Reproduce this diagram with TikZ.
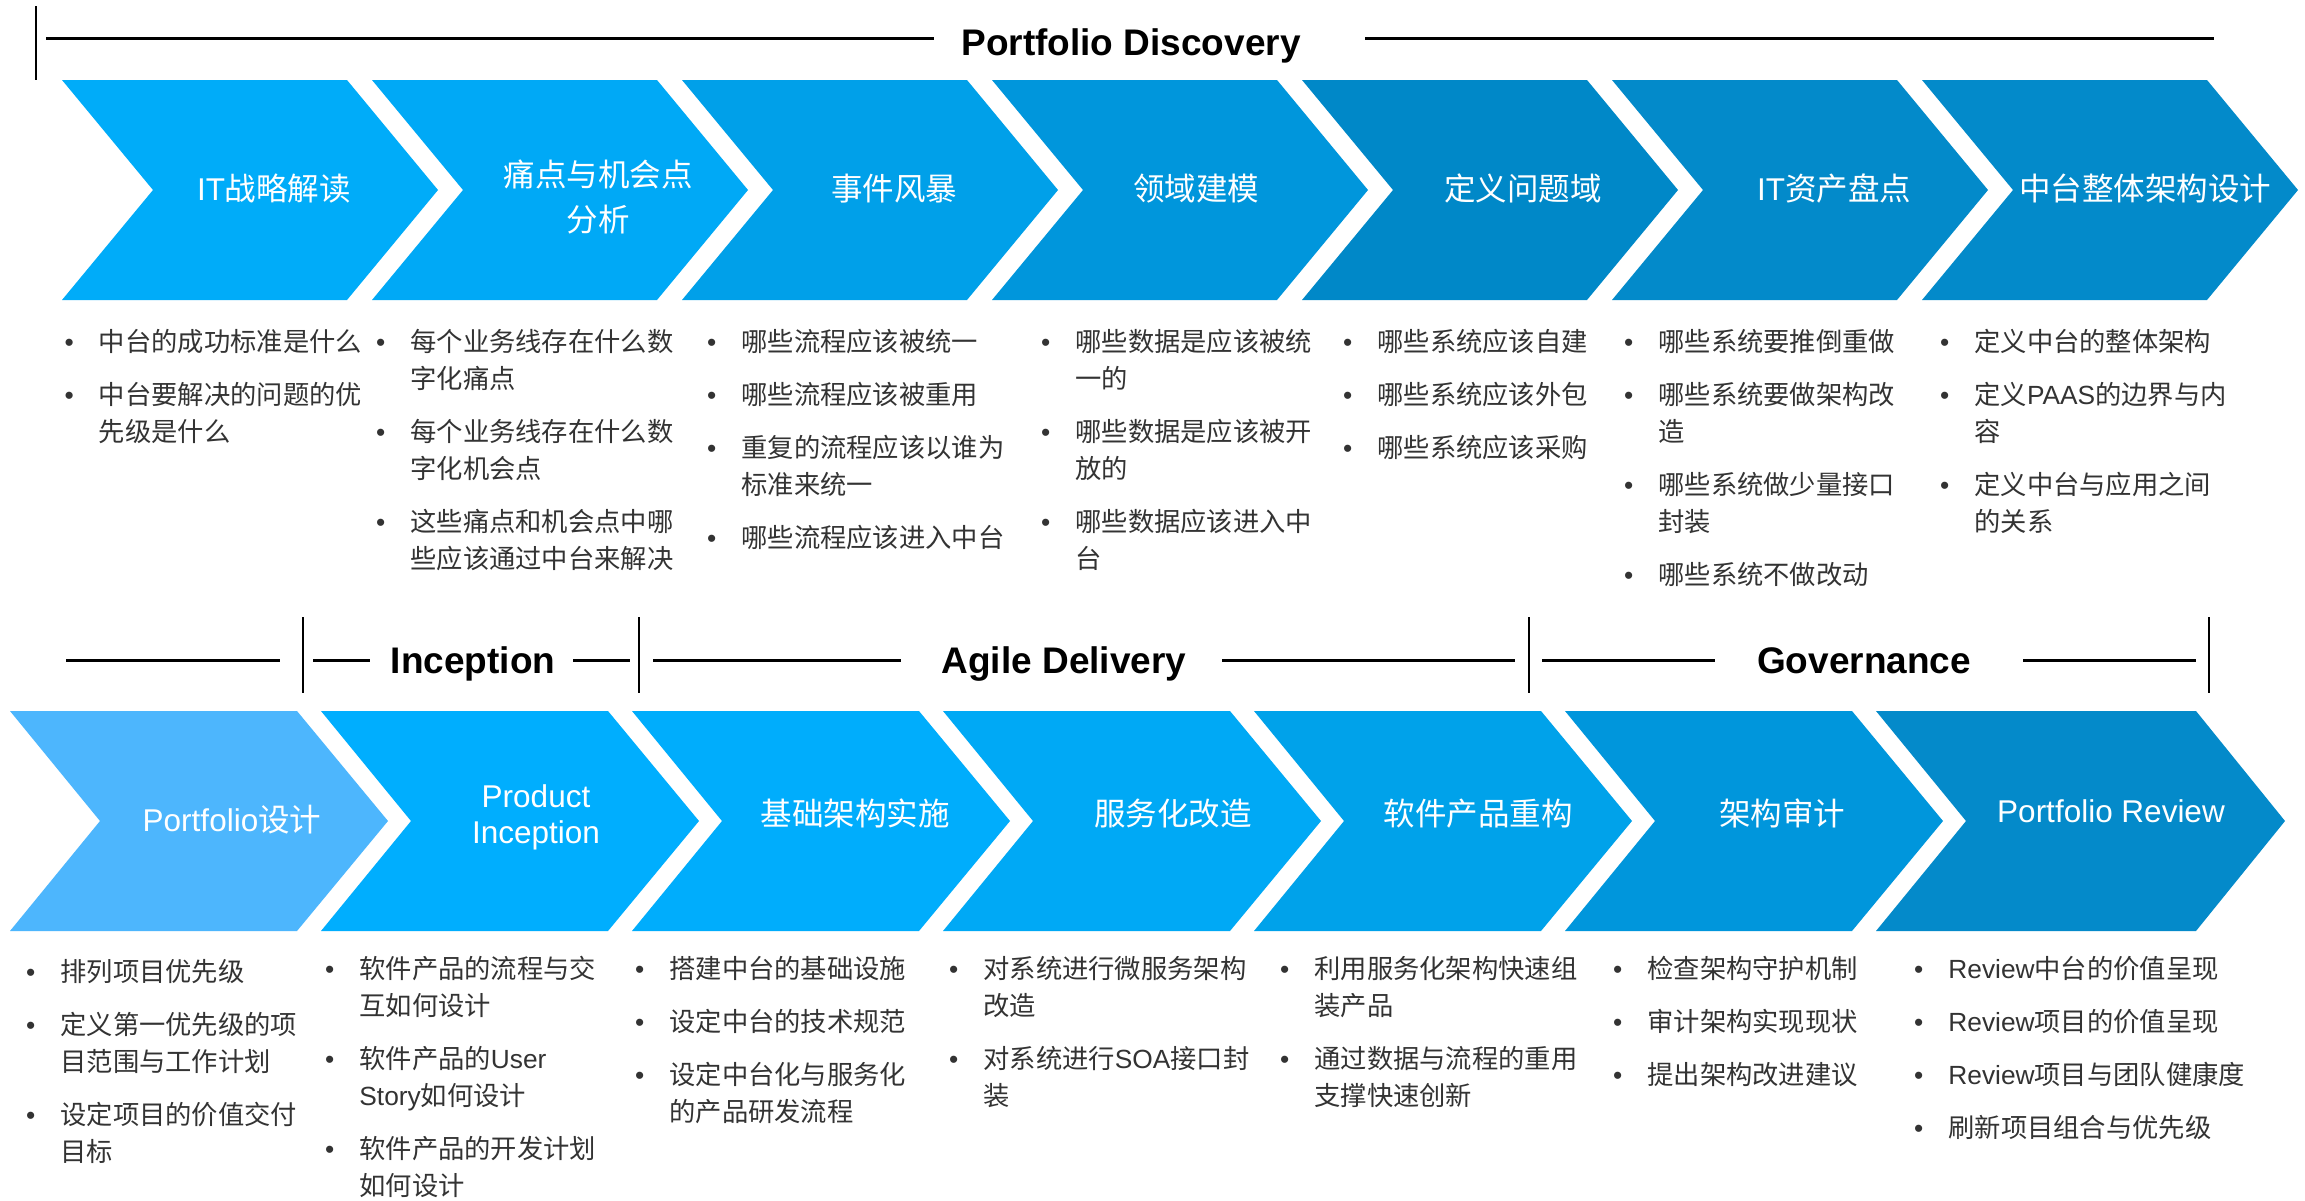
\documentclass[tikz,border=0pt]{standalone}
\usepackage{fontspec}
\setmainfont{Noto Sans CJK SC}
\newfontfamily\lat{Liberation Sans}
\definecolor{tA}{HTML}{00ACF9}
\definecolor{tB}{HTML}{00A9F6}
\definecolor{tC}{HTML}{00A0E9}
\definecolor{tD}{HTML}{0096DC}
\definecolor{tE}{HTML}{0088C8}
\definecolor{tF}{HTML}{038ACA}
\definecolor{bA}{HTML}{4DB6FD}
\definecolor{bB}{HTML}{00AEFE}
\definecolor{bC}{HTML}{00ADFC}
\definecolor{bD}{HTML}{00A9F5}
\definecolor{bE}{HTML}{00A2EA}
\definecolor{bF}{HTML}{0096DC}
\definecolor{bG}{HTML}{048ACA}
\definecolor{bodygray}{HTML}{333333}
\newcommand\bul{{\lat\textbullet}}
\newcommand\blsp{\\[16pt]}
\tikzset{
  ctext/.style={text=white, font=\fontsize{31.5}{36}\selectfont, inner sep=0pt, anchor=base},
  blist/.style={text=bodygray, font=\fontsize{26.3}{37}\selectfont, inner sep=0pt, anchor=base west},
  titletext/.style={font=\lat\bfseries\fontsize{37}{44}\selectfont, inner sep=0pt, anchor=base},
  hrule/.style={line width=3pt},
  vbar/.style={line width=2.5pt}
}
\begin{document}
\begin{tikzpicture}[x=1pt,y=-1pt]
\useasboundingbox (0,0) rectangle (2305,1200);
\fill[white] (0,0) rectangle (2305,1200);

% ---------- top header ----------
\draw[vbar] (36,6) -- (36,80);
\draw[hrule] (46,38) -- (934,38);
\node[titletext] (pd) at (1131,55) {Portfolio Discovery};
\draw[hrule] (1365,38) -- (2214,38);

% ---------- top chevrons ----------
\foreach \c [count=\i from 0] in {tA,tB,tC,tD,tE,tF,tF}{
  \fill[\c] ({62+310*\i},80) -- ++(285,0) -- ++(91,110) -- ++(-91,110) -- ++(-285,0) -- ++(91,-110) -- cycle;
}
\node[ctext] (c1) at (274,200) {{\lat IT}战略解读};
\node[ctext, font=\fontsize{31.5}{45}\selectfont] (c2) at (598,186) {\begin{tabular}[t]{@{}c@{}}痛点与机会点\\分析\end{tabular}};
\node[ctext] (c3) at (894,200) {事件风暴};
\node[ctext] (c4) at (1196,200) {领域建模};
\node[ctext] (c5) at (1523,200) {定义问题域};
\node[ctext] (c6) at (1834,200) {{\lat IT}资产盘点};
\node[ctext] (c7) at (2145,200) {中台整体架构设计};

% ---------- top bullet lists ----------
\node[blist] (t1) at (64.5,351) {\begin{tabular}[t]{@{}l@{\hspace{25pt}}l@{}}
\bul & 中台的成功标准是什么\blsp
\bul & 中台要解决的问题的优\\ & 先级是什么
\end{tabular}};
\node[blist] (t2) at (376,351) {\begin{tabular}[t]{@{}l@{\hspace{25pt}}l@{}}
\bul & 每个业务线存在什么数\\ & 字化痛点\blsp
\bul & 每个业务线存在什么数\\ & 字化机会点\blsp
\bul & 这些痛点和机会点中哪\\ & 些应该通过中台来解决
\end{tabular}};
\node[blist] (t3) at (707,351) {\begin{tabular}[t]{@{}l@{\hspace{25pt}}l@{}}
\bul & 哪些流程应该被统一\blsp
\bul & 哪些流程应该被重用\blsp
\bul & 重复的流程应该以谁为\\ & 标准来统一\blsp
\bul & 哪些流程应该进入中台
\end{tabular}};
\node[blist] (t4) at (1041,351) {\begin{tabular}[t]{@{}l@{\hspace{25pt}}l@{}}
\bul & 哪些数据是应该被统\\ & 一的\blsp
\bul & 哪些数据是应该被开\\ & 放的\blsp
\bul & 哪些数据应该进入中\\ & 台
\end{tabular}};
\node[blist] (t5) at (1343,351) {\begin{tabular}[t]{@{}l@{\hspace{25pt}}l@{}}
\bul & 哪些系统应该自建\blsp
\bul & 哪些系统应该外包\blsp
\bul & 哪些系统应该采购
\end{tabular}};
\node[blist] (t6) at (1624,351) {\begin{tabular}[t]{@{}l@{\hspace{25pt}}l@{}}
\bul & 哪些系统要推倒重做\blsp
\bul & 哪些系统要做架构改\\ & 造\blsp
\bul & 哪些系统做少量接口\\ & 封装\blsp
\bul & 哪些系统不做改动
\end{tabular}};
\node[blist] (t7) at (1940,351) {\begin{tabular}[t]{@{}l@{\hspace{25pt}}l@{}}
\bul & 定义中台的整体架构\blsp
\bul & 定义{\lat PAAS}的边界与内\\ & 容\blsp
\bul & 定义中台与应用之间\\ & 的关系
\end{tabular}};

% ---------- bottom header ----------
\draw[hrule] (66,660) -- (280,660);
\draw[vbar] (303,617) -- (303,693);
\draw[hrule] (313,660) -- (370,660);
\node[titletext] (inc) at (473,673) {Inception};
\draw[hrule] (573,660) -- (630,660);
\draw[vbar] (639,617) -- (639,693);
\draw[hrule] (653,660) -- (901,660);
\node[titletext] (agile) at (1064,673) {Agile Delivery};
\draw[hrule] (1222,660) -- (1515,660);
\draw[vbar] (1529,617) -- (1529,693);
\draw[hrule] (1542,660) -- (1715,660);
\node[titletext] (gov) at (1864,673) {Governance};
\draw[hrule] (2023,660) -- (2196,660);
\draw[vbar] (2209,617) -- (2209,693);

% ---------- bottom chevrons ----------
\foreach \c [count=\i from 0] in {bA,bB,bC,bD,bE,bF}{
  \fill[\c] ({10+311*\i},711) -- ++(287,0) -- ++(91,110) -- ++(-91,110) -- ++(-287,0) -- ++(90,-110) -- cycle;
}
\fill[bG] (1876,711) -- (2196,711) -- (2285,821) -- (2196,931) -- (1876,931) -- (1966,821) -- cycle;
\node[ctext] (d1) at (232,831) {{\lat Portfolio}设计};
\node[ctext, font=\lat\fontsize{31.5}{36}\selectfont] (d2) at (536,807) {\begin{tabular}[t]{@{}c@{}}Product\\Inception\end{tabular}};
\node[ctext] (d3) at (855,825) {基础架构实施};
\node[ctext] (d4) at (1173,825) {服务化改造};
\node[ctext] (d5) at (1478,825) {软件产品重构};
\node[ctext] (d6) at (1782,825) {架构审计};
\node[ctext, font=\lat\fontsize{31.5}{36}\selectfont] (d7) at (2111,822) {Portfolio Review};

% ---------- bottom bullet lists ----------
\node[blist] (u1) at (26,981) {\begin{tabular}[t]{@{}l@{\hspace{25pt}}l@{}}
\bul & 排列项目优先级\blsp
\bul & 定义第一优先级的项\\ & 目范围与工作计划\blsp
\bul & 设定项目的价值交付\\ & 目标
\end{tabular}};
\node[blist] (u2) at (325,978) {\begin{tabular}[t]{@{}l@{\hspace{25pt}}l@{}}
\bul & 软件产品的流程与交\\ & 互如何设计\blsp
\bul & 软件产品的{\lat User}\\ & {\lat Story}如何设计\blsp
\bul & 软件产品的开发计划\\ & 如何设计
\end{tabular}};
\node[blist] (u3) at (635,978) {\begin{tabular}[t]{@{}l@{\hspace{25pt}}l@{}}
\bul & 搭建中台的基础设施\blsp
\bul & 设定中台的技术规范\blsp
\bul & 设定中台化与服务化\\ & 的产品研发流程
\end{tabular}};
\node[blist] (u4) at (949,978) {\begin{tabular}[t]{@{}l@{\hspace{25pt}}l@{}}
\bul & 对系统进行微服务架构\\ & 改造\blsp
\bul & 对系统进行{\lat SOA}接口封\\ & 装
\end{tabular}};
\node[blist] (u5) at (1280,978) {\begin{tabular}[t]{@{}l@{\hspace{25pt}}l@{}}
\bul & 利用服务化架构快速组\\ & 装产品\blsp
\bul & 通过数据与流程的重用\\ & 支撑快速创新
\end{tabular}};
\node[blist] (u6) at (1613,978) {\begin{tabular}[t]{@{}l@{\hspace{25pt}}l@{}}
\bul & 检查架构守护机制\blsp
\bul & 审计架构实现现状\blsp
\bul & 提出架构改进建议
\end{tabular}};
\node[blist] (u7) at (1914,978) {\begin{tabular}[t]{@{}l@{\hspace{25pt}}l@{}}
\bul & {\lat Review}中台的价值呈现\blsp
\bul & {\lat Review}项目的价值呈现\blsp
\bul & {\lat Review}项目与团队健康度\blsp
\bul & 刷新项目组合与优先级
\end{tabular}};
\end{tikzpicture}
\end{document}
